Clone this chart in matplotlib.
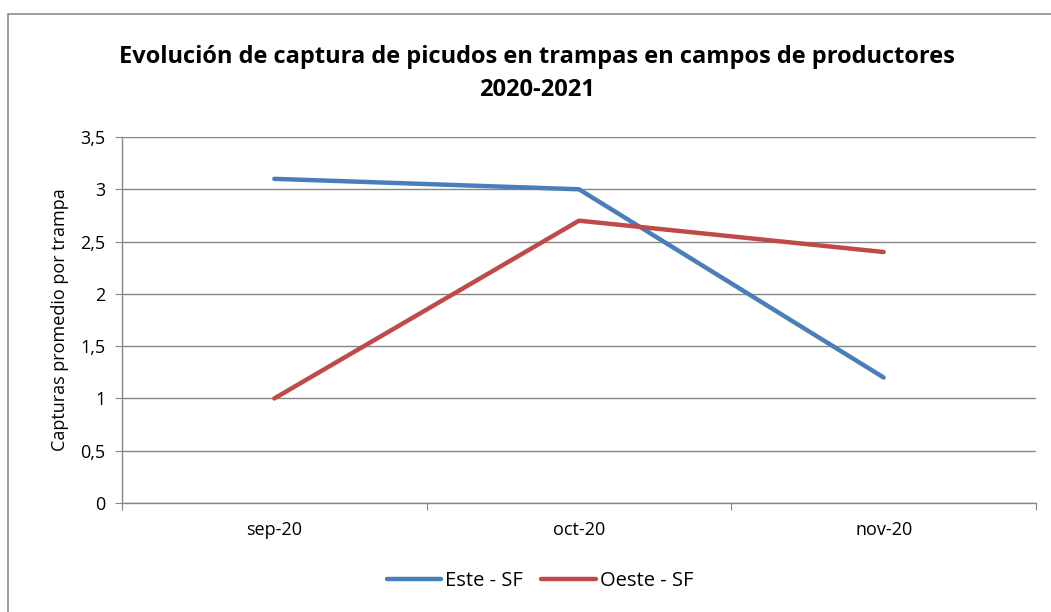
import matplotlib
matplotlib.use("Agg")
import matplotlib.pyplot as plt
from matplotlib.patches import Rectangle
import numpy as np

categories = ["sep-20", "oct-20", "nov-20"]
este = [3.1, 3.0, 1.2]
oeste = [1.0, 2.7, 2.4]
yticks = [0, 0.5, 1, 1.5, 2, 2.5, 3, 3.5]
ytick_labels = ["0", "0,5", "1", "1,5", "2", "2,5", "3", "3,5"]

plt.rcParams['font.family'] = ['Open Sans', 'DejaVu Sans']

W, H = 1051, 612
fig = plt.figure(figsize=(W/100, H/100), dpi=100)

# outer chart frame
fig.patches.append(Rectangle((8/W, -0.05), 1.1, 1 - 14/H + 0.05, transform=fig.transFigure,
                             fill=False, edgecolor="#8c8c8c", linewidth=1.2))

ax = fig.add_axes([122/W, 1 - 503/H, (1036-122)/W, (503-137)/H])
x = np.arange(len(categories))
ax.plot(x, este, color="#4A7EBB", linewidth=3.2, label="Este - SF", solid_capstyle="round")
ax.plot(x, oeste, color="#BE4B48", linewidth=3.2, label="Oeste - SF", solid_capstyle="round")

ax.set_xlim(-0.5, 2.5)
ax.set_ylim(0, 3.5)
ax.set_yticks(yticks)
ax.set_yticklabels(ytick_labels, fontsize=13)
ax.set_xticks([-0.5, 0.5, 1.5, 2.5])
ax.set_xticklabels([])
ax.set_xticks(x, minor=True)
ax.set_xticklabels(categories, minor=True, fontsize=13)
ax.tick_params(axis="x", which="minor", length=0, pad=13)
ax.tick_params(axis="x", which="major", length=5, color="#868686", direction="out")
ax.tick_params(axis="y", length=5, color="#868686", direction="out", pad=7)
ax.grid(axis="y", color="#868686", linewidth=1)
ax.set_axisbelow(True)
for s in ["top", "right"]:
    ax.spines[s].set_visible(False)
for s in ["left", "bottom"]:
    ax.spines[s].set_color("#868686")
    ax.spines[s].set_linewidth(1)

ax.set_ylabel("Capturas promedio por trampa", fontsize=13, labelpad=8)

fig.text(537/W, 1 - 57/H, "Evolución de captura de picudos en trampas en campos de productores",
         ha="center", va="center", fontsize=17, fontweight="bold")
fig.text(537/W, 1 - 90/H, "2020-2021", ha="center", va="center", fontsize=17, fontweight="bold")

fig.legend(loc="center", bbox_to_anchor=(540/W, 1 - 581/H), ncol=2, frameon=False,
           fontsize=14.5, handlelength=2.7, handletextpad=0.2, columnspacing=0.9)

fig.savefig("out.png", dpi=100)
